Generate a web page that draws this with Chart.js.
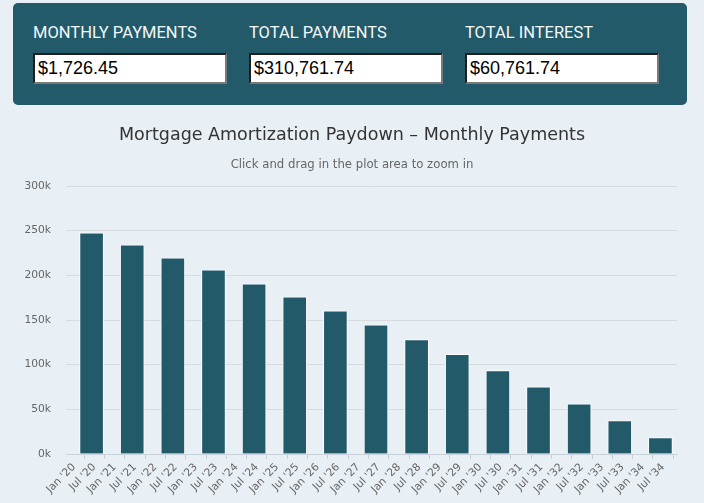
<!DOCTYPE html>
<html>
<head>
<meta charset="utf-8">
<script src="https://cdn.jsdelivr.net/npm/chart.js@4.4.1/dist/chart.umd.min.js"></script>
<style>
  html, body { margin: 0; padding: 0; background: #e8eff5; width: 704px; height: 503px; overflow: hidden; }
  #panel { position: absolute; left: 13px; top: 3px; width: 674px; height: 102px; background: #235a6a; border-radius: 5px; }
  .lbl { position: absolute; top: 18px; font-family: Roboto, sans-serif; font-size: 16.5px; color: #f2f8f9; line-height: 24px; white-space: nowrap; }
  .box { position: absolute; top: 50px; width: 187px; height: 27px; background: #ffffff;
         border-style: solid; border-width: 2px; border-color: #1e1e1e #7a7a7a #7a7a7a #1e1e1e;
         font-family: "Liberation Sans", Arial, sans-serif; font-size: 18px; color: #000; line-height: 27px;
         padding-left: 3px; box-sizing: content-box; white-space: nowrap; }
  #chartWrap { position: absolute; left: 0; top: 110px; width: 704px; height: 393px; }
</style>
</head>
<body>
<div id="panel">
  <div class="lbl" style="left:20px">MONTHLY PAYMENTS</div>
  <div class="lbl" style="left:236px">TOTAL PAYMENTS</div>
  <div class="lbl" style="left:452px">TOTAL INTEREST</div>
  <div class="box" style="left:20px">$1,726.45</div>
  <div class="box" style="left:236px">$310,761.74</div>
  <div class="box" style="left:452px">$60,761.74</div>
</div>
<div id="chartWrap"><canvas id="c" width="704" height="393"></canvas></div>
<script>
// ---- data ----
const pointDates = ['2020-06-07','2021-06-07','2022-06-07','2023-06-07','2024-06-07','2025-06-07','2026-06-07','2027-06-07',
                    '2028-06-07','2029-06-07','2030-06-07','2031-06-07','2032-06-07','2033-06-07','2034-06-07'];
const balances = [247700, 234300, 219700, 206300, 190600, 176100, 160400, 144700,
                  128000, 111600, 93300, 75300, 56300, 37300, 18300];
const xTickLabels = ["Jan '20","Jul '20","Jan '21","Jul '21","Jan '22","Jul '22","Jan '23","Jul '23",
                     "Jan '24","Jul '24","Jan '25","Jul '25","Jan '26","Jul '26","Jan '27","Jul '27",
                     "Jan '28","Jul '28","Jan '29","Jul '29","Jan '30","Jul '30","Jan '31","Jul '31",
                     "Jan '32","Jul '32","Jan '33","Jul '33","Jan '34","Jul '34"];
const yTickValues = [0, 50000, 100000, 150000, 200000, 250000, 300000];

// months since Jan 2020
function monthsOf(s) {
  const [y, m, d] = s.split('-').map(Number);
  return (y - 2020) * 12 + (m - 1) + (d - 1) / 30;
}
const points = pointDates.map((d, i) => ({ x: monthsOf(d), y: balances[i] }));
const tickMonths = xTickLabels.map((l, i) => i * 6);

const barColor = '#225a6a';
const axisColor = '#c9d0da';
const gridColor = '#d6dbdf';

new Chart(document.getElementById('c'), {
  type: 'bar',
  data: {
    datasets: [{
      label: 'Balance',
      data: points,
      backgroundColor: barColor,
      borderColor: '#ffffff',
      borderWidth: { top: 1, left: 1, right: 1, bottom: 0 },
      barThickness: 24
    }]
  },
  options: {
    responsive: false,
    animation: false,
    devicePixelRatio: 1,
    layout: { padding: { left: 0, right: 0, top: 0, bottom: 0 } },
    plugins: {
      legend: { display: false },
      tooltip: { enabled: false },
      title: {
        display: true,
        text: 'Mortgage Amortization Paydown – Monthly Payments',
        color: '#333333',
        font: { family: 'DejaVu Sans', size: 17.5, weight: 'normal' },
        padding: { top: 14.8, bottom: 0 }
      },
      subtitle: {
        display: true,
        text: 'Click and drag in the plot area to zoom in',
        color: '#666666',
        font: { family: 'DejaVu Sans', size: 11.7, weight: 'normal' },
        padding: { top: 12.5, bottom: 13.7 }
      }
    },
    scales: {
      x: {
        type: 'linear',
        min: -2.36,
        max: 178.1,
        offset: false,
        afterBuildTicks: (axis) => { axis.ticks = tickMonths.map(v => ({ value: v })); },
        afterFit: (axis) => { axis.height = 49; },
        border: { display: true, color: axisColor, width: 1 },
        grid: { display: true, drawOnChartArea: false, drawTicks: true, tickLength: 5, color: axisColor },
        ticks: {
          autoSkip: false,
          minRotation: 45,
          maxRotation: 45,
          padding: 2,
          color: '#666666',
          font: { family: 'DejaVu Sans', size: 10.7 },
          callback: (value, index) => xTickLabels[index]
        }
      },
      y: {
        min: 0,
        max: 300000,
        afterBuildTicks: (axis) => { axis.ticks = yTickValues.map(v => ({ value: v })); },
        afterFit: (axis) => { axis.width = 66; },
        border: { display: false },
        grid: { color: gridColor, drawTicks: false, lineWidth: 1 },
        ticks: {
          padding: 15,
          color: '#666666',
          font: { family: 'DejaVu Sans', size: 10.7 },
          callback: (v) => (v / 1000) + 'k'
        }
      },
      rightSpace: {
        type: 'linear',
        position: 'right',
        display: true,
        afterFit: (axis) => { axis.width = 27; },
        border: { display: false },
        grid: { display: false, drawTicks: false },
        ticks: { display: false }
      }
    }
  }
});
</script>
</body>
</html>
